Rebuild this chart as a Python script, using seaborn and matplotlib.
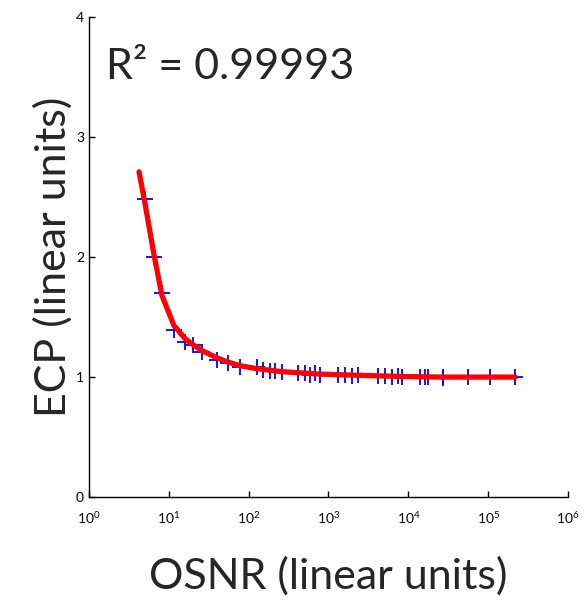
import matplotlib
matplotlib.use("Agg")
import matplotlib.pyplot as plt
import seaborn as sns
import pandas as pd

# measured points (OSNR, ECP)
osnr = [5.03, 6.53, 8.22, 11.6, 16.0, 20.1, 26.1, 40.2, 55.2, 78.0,
        127, 151, 185, 214, 262, 416, 509, 588, 679, 785,
        1320, 1615, 1977, 2350, 4185, 5120, 6270, 7450, 8360,
        14060, 16250, 17700, 27300, 27300, 56100, 106000, 218000]
ecp = [2.48, 2.00, 1.70, 1.39, 1.29, 1.27, 1.21, 1.14, 1.12, 1.08,
       1.08, 1.06, 1.05, 1.05, 1.04, 1.03, 1.03, 1.02, 1.03, 1.02,
       1.02, 1.02, 1.01, 1.02, 1.01, 1.01, 1.00, 1.01, 1.00,
       1.00, 1.00, 1.00, 1.00, 0.99, 1.00, 1.00, 1.00]

# fitted curve
fit_osnr = [4.24, 5.03, 6.53, 8.22, 11.6, 16.0, 20.1, 26.1, 40.2, 55.2,
            78.0, 127, 262, 785, 2350, 8360, 27300, 218000]
fit_ecp = [2.71, 2.45, 2.02, 1.68, 1.43, 1.32, 1.27, 1.22, 1.16, 1.125,
           1.095, 1.07, 1.045, 1.025, 1.015, 1.005, 1.00, 1.00]

r2_text = "R\u00b2 = 0.99993"

pts = pd.DataFrame({"osnr": osnr, "ecp": ecp})
fit = pd.DataFrame({"osnr": fit_osnr, "ecp": fit_ecp})

sns.set_style("white")
plt.rcParams['font.family'] = ['Lato', 'DejaVu Sans']

fig = plt.figure(figsize=(5.85, 6.07), dpi=100)
ax = fig.add_axes([0.152, 0.181, 0.819, 0.791])

sns.scatterplot(data=pts, x="osnr", y="ecp", marker="+", color="#0000ff",
                s=130, linewidth=1.3, ax=ax, zorder=2)
sns.lineplot(data=fit, x="osnr", y="ecp", color="#ff0000", linewidth=3.8,
             ax=ax, zorder=3, sort=False)

ax.set_xscale("log")
ax.set_xlim(1, 1e6)
ax.set_ylim(0, 4)
ax.set_xticks([1e0, 1e1, 1e2, 1e3, 1e4, 1e5, 1e6])
ax.set_yticks([0, 1, 2, 3, 4])
ax.minorticks_off()
ax.tick_params(direction="in", length=4, width=1, labelsize=10, colors="black",
               left=True, bottom=True)
ax.tick_params(axis="x", pad=9)
for s in ["top", "right"]:
    ax.spines[s].set_visible(False)
for s in ["left", "bottom"]:
    ax.spines[s].set_color("black")
    ax.spines[s].set_linewidth(1.0)

ax.set_xlabel("OSNR (linear units)", fontsize=31, labelpad=22)
ax.set_ylabel("ECP (linear units)", fontsize=31, labelpad=2)
ax.text(0.035, 0.895, r2_text, transform=ax.transAxes, fontsize=31,
        ha="left", va="center")

fig.savefig("out.png", dpi=100)
